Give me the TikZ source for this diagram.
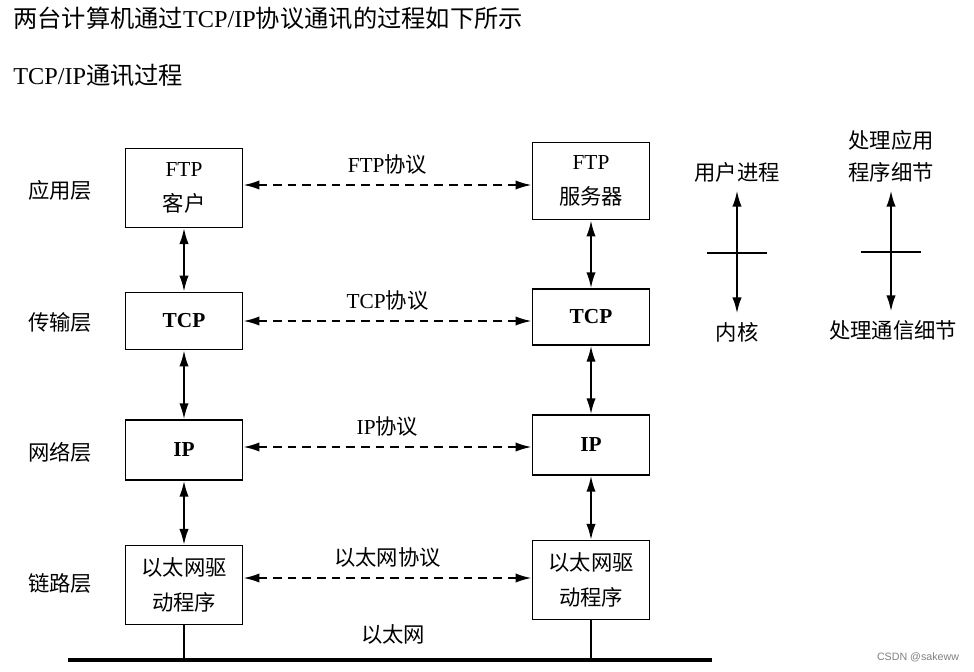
\documentclass[tikz,border=0pt]{standalone}
\usepackage{fontspec}
\setmainfont{Liberation Serif}
\newfontfamily\cjk{Noto Sans CJK SC}
\newfontfamily\wmfont{Liberation Sans}
\usetikzlibrary{arrows.meta,positioning}

\begin{document}
\begin{tikzpicture}[x=0.75pt,y=-0.75pt,>={Latex[length=12pt,width=7pt]},font=\fontsize{16}{26}\selectfont,
	box/.style={draw,line width=1.1pt,minimum width=88pt,align=center},
	onebox/.style={box,minimum height=43pt,font=\fontsize{16}{26}\selectfont\bfseries},
	twobox/.style={box,minimum height=59pt},
	stack/.style={<->,line width=1.5pt},
	proto/.style={<->,line width=1.5pt,dash pattern=on 6.5pt off 4.5pt},
	title/.style={anchor=west,inner sep=0pt,font=\fontsize{18.2}{22}\selectfont}]

		\useasboundingbox (0,0) rectangle (974,671);

		% headings
		\node (head) [title] at (13,18) {{\cjk 两台计算机通过}TCP/IP{\cjk 协议通讯的过程如下所示}};
		\node (sub) [title] at (13,75) {TCP/IP{\cjk 通讯过程}};

		% layer names
		\node (lapp) at (60,190) {\cjk 应用层};
		\node (ltrans) at (60,322) {\cjk 传输层};
		\node (lnet) at (60,452) {\cjk 网络层};
		\node (llink) at (60,583) {\cjk 链路层};

		% client side
		\node (ftpc) [twobox] at (184,188) {FTP\\{\cjk 客户}};
		\node (tcpc) [onebox] at (184,321) {TCP};
		\node (ipc) [onebox,minimum height=45pt] at (184,450) {IP};
		\node (ethc) [twobox] at (184,585) {{\cjk 以太网驱}\\{\cjk 动程序}};

		% server side
		\node (ftps) [twobox,minimum height=58pt] at (591,181) {FTP\\{\cjk 服务器}};
		\node (tcps) [onebox,minimum height=42pt] at (591,317) {TCP};
		\node (ips) [onebox,minimum height=45pt] at (591,445) {IP};
		\node (eths) [twobox] at (591,580) {{\cjk 以太网驱}\\{\cjk 动程序}};

		\draw[stack] (ftpc) to (tcpc);
		\draw[stack] (tcpc) to (ipc);
		\draw[stack] (ipc) to (ethc);
		\draw[stack] (ftps) to (tcps);
		\draw[stack] (tcps) to (ips);
		\draw[stack] (ips) to (eths);

		\draw[proto] (ftpc.east) ++(0,-3) coordinate (fa) to node[above=4pt] {FTP{\cjk 协议}} (fa -| ftps.west);
		\draw[proto] (tcpc.east) to node[above=4pt] {TCP{\cjk 协议}} (tcpc.east -| tcps.west);
		\draw[proto] (ipc.east) ++(0,-3) coordinate (ia) to node[above=4pt] {IP{\cjk 协议}} (ia -| ips.west);
		\draw[proto] (ethc.east) ++(0,-7) coordinate (ea) to node[above=4pt] {\cjk 以太网协议} (ea -| eths.west);

		% ethernet
		\coordinate (busl) at (68,660);
		\coordinate (busr) at (712,660);
		\draw[line width=3pt] (busl) -- (busr);
		\draw[line width=1.1pt] (ethc.south) -- (ethc.south |- busl);
		\draw[line width=1.1pt] (eths.south) -- (eths.south |- busl);
		\node (ether) at (393,634) {\cjk 以太网};

		% legend
		\node (user) at (737,172) {\cjk 用户进程};
		\node (kern) at (737,332) {\cjk 内核};
		\draw[stack,shorten <=3pt,shorten >=3pt] (user) to (kern);
		\coordinate (ut) at (737,253);
		\draw[line width=1.1pt] (ut) ++(-30,0) -- ++(60,0);

		\node (appd) [align=center,font=\fontsize{16}{24}\selectfont\cjk] at (891,156) {处理应用\\程序细节};
		\node (comm) at (893,330) {\cjk 处理通信细节};
		\draw[stack,shorten <=3pt,shorten >=3pt] (appd.south) to (appd.south |- comm.north);
		\coordinate (at) at (891,252);
		\draw[line width=1.1pt] (at) ++(-30,0) -- ++(60,0);

		\node (mark) [text=gray,font=\wmfont\fontsize{8}{10}\selectfont] at (918,657) {CSDN @sakeww};

	\end{tikzpicture}
\end{document}
